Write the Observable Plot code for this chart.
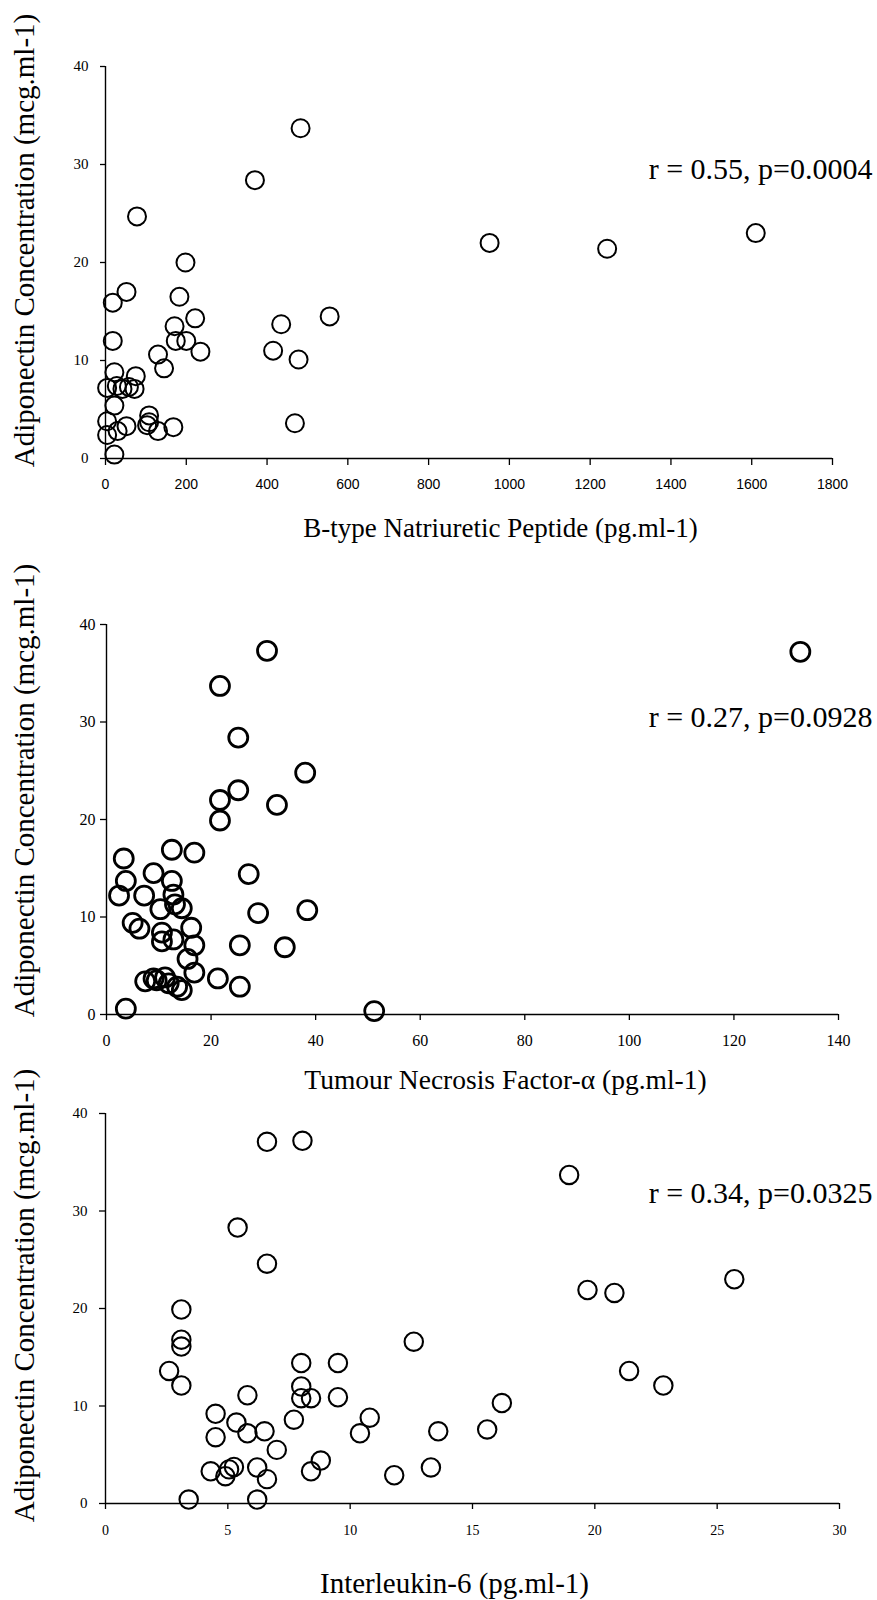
<!DOCTYPE html>
<html><head><meta charset="utf-8">
<script src="https://cdn.jsdelivr.net/npm/d3@7"></script>
<script src="https://cdn.jsdelivr.net/npm/@observablehq/plot@0.6"></script>
<style>
html,body{margin:0;padding:0;background:#fff;overflow:hidden;}
#chart svg{display:block;}
</style></head><body><div id="chart"></div>
<script>
// ---- shared ----
const yTitle = "Adiponectin Concentration (mcg.ml-1)";
const yTicks = [0, 10, 20, 30, 40];

// ---- panel 1: BNP ----
const bnpTitle = "B-type Natriuretic Peptide (pg.ml-1)";
const bnpNote = "r = 0.55, p=0.0004";
const bnpTicks = [0, 200, 400, 600, 800, 1000, 1200, 1400, 1600, 1800];
const bnpX = [483, 370, 78, 198, 52, 18, 183, 222, 171, 174, 200, 18, 235, 130, 145, 22, 75, 4, 28, 42, 58, 72, 22, 4, 4, 30, 52, 108, 108, 103, 130, 168, 22, 435, 415, 478, 469, 555, 951, 1242, 1610];
const bnpY = [33.7, 28.4, 24.7, 20.0, 17.0, 15.9, 16.5, 14.3, 13.5, 12.0, 12.0, 12.0, 10.9, 10.6, 9.2, 8.8, 8.4, 7.2, 7.4, 7.1, 7.3, 7.1, 5.4, 3.8, 2.4, 2.8, 3.3, 4.4, 3.7, 3.4, 2.8, 3.2, 0.4, 13.7, 11.0, 10.1, 3.6, 14.5, 22.0, 21.4, 23.0];

// ---- panel 2: TNF-alpha ----
const tnfTitle = "Tumour Necrosis Factor-α (pg.ml-1)";
const tnfNote = "r = 0.27, p=0.0928";
const tnfTicks = [0, 20, 40, 60, 80, 100, 120, 140];
const tnfX = [3.3, 9.0, 3.7, 12.5, 2.4, 7.2, 12.8, 10.3, 13.1, 14.4, 12.5, 16.8, 27.2, 29.0, 38.4, 5.0, 6.3, 10.6, 16.2, 10.6, 12.8, 16.8, 25.5, 34.1, 15.5, 16.8, 21.3, 25.5, 7.4, 9.0, 9.6, 11.2, 11.9, 13.5, 14.4, 3.7, 51.2, 30.7, 21.7, 25.2, 25.2, 21.7, 21.7, 32.6, 38.0, 132.7];
const tnfY = [16.0, 14.5, 13.7, 13.7, 12.2, 12.2, 12.3, 10.8, 11.3, 10.9, 16.9, 16.6, 14.4, 10.4, 10.7, 9.4, 8.8, 8.4, 8.9, 7.5, 7.7, 7.1, 7.1, 6.9, 5.7, 4.3, 3.7, 2.85, 3.4, 3.7, 3.5, 3.8, 3.2, 2.85, 2.5, 0.6, 0.35, 37.3, 33.7, 28.4, 23.0, 22.0, 19.9, 21.5, 24.8, 37.2];

// ---- panel 3: IL-6 ----
const il6Title = "Interleukin-6 (pg.ml-1)";
const il6Note = "r = 0.34, p=0.0325";
const il6Ticks = [0, 5, 10, 15, 20, 25, 30];
const il6X = [6.6, 8.05, 5.4, 6.6, 18.95, 19.7, 20.8, 25.7, 3.1, 3.1, 3.1, 2.6, 3.1, 12.6, 8.0, 9.5, 8.0, 8.0, 8.4, 9.5, 5.8, 21.4, 22.8, 16.2, 4.5, 5.35, 7.7, 10.8, 4.5, 5.8, 6.5, 10.4, 13.6, 15.6, 7.0, 8.8, 4.3, 4.9, 5.05, 5.25, 6.2, 6.6, 8.4, 11.8, 13.3, 3.4, 6.2];
const il6Y = [37.1, 37.2, 28.3, 24.6, 33.7, 21.9, 21.6, 23.0, 19.9, 16.8, 16.1, 13.6, 12.1, 16.6, 14.4, 14.4, 12.0, 10.8, 10.8, 10.9, 11.1, 13.6, 12.1, 10.3, 9.2, 8.3, 8.6, 8.8, 6.8, 7.2, 7.4, 7.2, 7.4, 7.6, 5.5, 4.4, 3.3, 2.8, 3.5, 3.75, 3.7, 2.5, 3.3, 2.9, 3.7, 0.4, 0.4];

const SERIF = "'Liberation Serif', 'Times New Roman', serif";
const SANS = "'Liberation Sans', Arial, sans-serif";
const W = 877;
const fmtInt = d3.format("d");

function panel(o) {
  const idx = o.xs.map((_, i) => i);
  const xMax = o.xTicks[o.xTicks.length - 1];
  const plotW = W - o.ml - o.mr;
  return Plot.plot({
    width: W, height: o.height,
    marginTop: o.mt, marginBottom: o.mb, marginLeft: o.ml, marginRight: o.mr,
    style: {overflow: "visible", background: "transparent"},
    x: {domain: [0, xMax]},
    y: {domain: [0, 40]},
    marks: [
      Plot.axisY(yTicks, {tickSize: o.yTickSize, tickPadding: o.yTickPad, tickFormat: fmtInt, fontSize: o.yTickFont, fontFamily: SERIF, label: null, strokeWidth: 1.3}),
      Plot.axisX(o.xTicks, {tickSize: o.xTickSize, tickPadding: o.xTickPad, tickFormat: fmtInt, fontSize: o.xTickFont, fontFamily: o.xTickFamily, label: null, strokeWidth: 1.3}),
      Plot.ruleX([0], {y1: () => 0, y2: () => 40, strokeWidth: 1.4}),
      Plot.ruleY([0], {x1: () => 0, x2: () => xMax, strokeWidth: 1.4}),
      Plot.dot(idx, {x: i => o.xs[i], y: i => o.ys[i], r: o.r, stroke: "black", strokeWidth: o.sw, fill: "none"}),
      Plot.text([yTitle], {text: d => d, frameAnchor: "left", textAnchor: "middle", lineAnchor: "middle", rotate: -90, dx: 24 - o.ml, dy: o.yTitleDy, fontSize: 29, fontFamily: SERIF, fill: "black"}),
      Plot.text([o.title], {text: d => d, frameAnchor: "bottom", textAnchor: "middle", lineAnchor: "middle", dx: o.xTitleCx - (o.ml + plotW / 2), dy: o.xTitleDy, fontSize: o.xTitleFont, fontFamily: SERIF, fill: "black"}),
      Plot.text([o.note], {text: d => d, frameAnchor: "top-right", textAnchor: "end", lineAnchor: "middle", dx: 872 - (W - o.mr), dy: o.noteDy, fontSize: 30, fontFamily: SERIF, fill: "black"})
    ]
  });
}

const chart = document.getElementById("chart");
chart.appendChild(panel({
  xs: bnpX, ys: bnpY, xTicks: bnpTicks, title: bnpTitle, note: bnpNote,
  height: 550, mt: 66, mb: 92, ml: 105, mr: 45,
  yTickSize: 5, yTickPad: 12, yTickFont: 15,
  xTickSize: 7, xTickPad: 14, xTickFont: 14, xTickFamily: SANS,
  r: 9, sw: 2, yTitleDy: -22, xTitleCx: 500, xTitleDy: 70, xTitleFont: 27, noteDy: 103
}));
chart.appendChild(panel({
  xs: tnfX, ys: tnfY, xTicks: tnfTicks, title: tnfTitle, note: tnfNote,
  height: 550, mt: 74, mb: 86, ml: 106, mr: 39,
  yTickSize: 6, yTickPad: 5, yTickFont: 16,
  xTickSize: 6, xTickPad: 14, xTickFont: 16, xTickFamily: SERIF,
  r: 9.5, sw: 2.8, yTitleDy: -29, xTitleCx: 505, xTitleDy: 66, xTitleFont: 27.5, noteDy: 93
}));
chart.appendChild(panel({
  xs: il6X, ys: il6Y, xTicks: il6Ticks, title: il6Title, note: il6Note,
  height: 500, mt: 13, mb: 97, ml: 105, mr: 38,
  yTickSize: 6, yTickPad: 12, yTickFont: 15,
  xTickSize: 6, xTickPad: 16, xTickFont: 14, xTickFamily: SERIF,
  r: 9.2, sw: 2.1, yTitleDy: -13, xTitleCx: 454, xTitleDy: 80, xTitleFont: 29, noteDy: 80
}));
</script></body></html>
